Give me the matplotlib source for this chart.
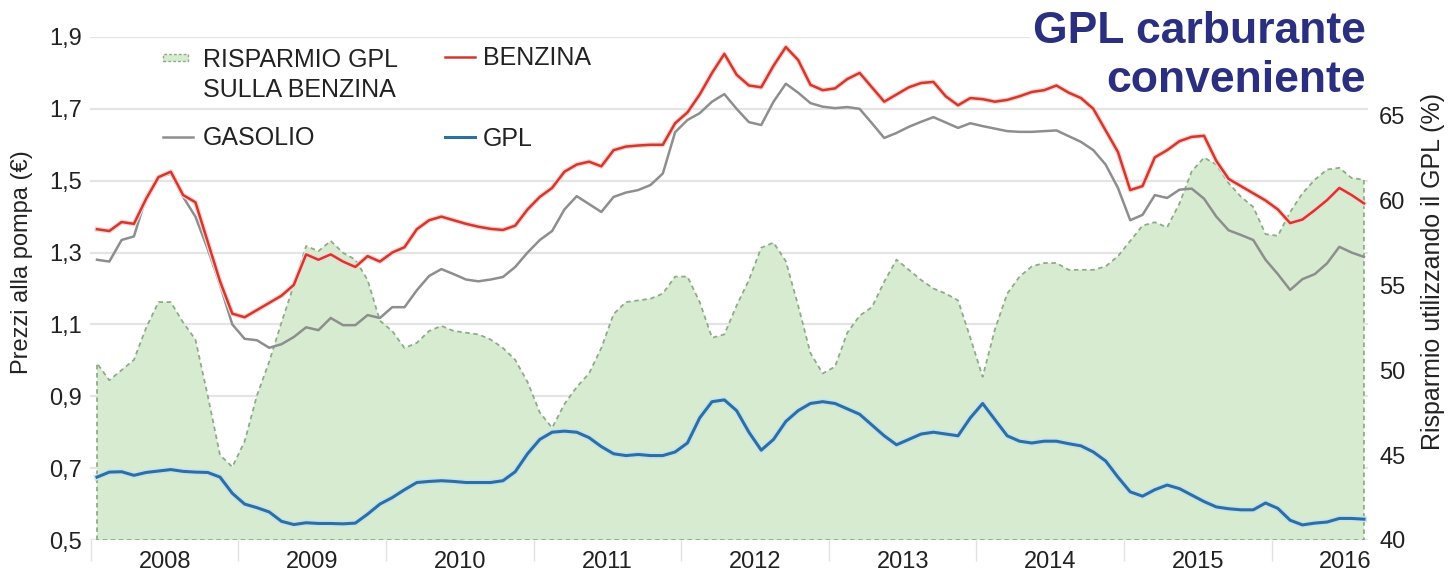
import matplotlib
matplotlib.use("Agg")
import matplotlib.pyplot as plt
import matplotlib.patheffects as pe
from matplotlib.lines import Line2D
from matplotlib.patches import Rectangle
from matplotlib.ticker import FuncFormatter

plt.rcParams['font.family'] = ['Liberation Sans', 'DejaVu Sans']

# prezzi medi mensili alla pompa (euro/litro), gen 2008 - ago 2016
benzina = [1.365, 1.36, 1.385, 1.38, 1.45, 1.51, 1.525, 1.46, 1.44, 1.33, 1.22, 1.13,
           1.12, 1.14, 1.16, 1.18, 1.21, 1.295, 1.28, 1.295, 1.275, 1.26, 1.29, 1.275,
           1.30, 1.315, 1.365, 1.39, 1.40, 1.39, 1.38, 1.372, 1.366, 1.363, 1.375, 1.42,
           1.455, 1.48, 1.525, 1.545, 1.553, 1.54, 1.585, 1.595, 1.598, 1.60, 1.60, 1.66,
           1.69, 1.74, 1.80, 1.853, 1.795, 1.765, 1.76, 1.82, 1.872, 1.836, 1.767, 1.752,
           1.757, 1.783, 1.80, 1.76, 1.72, 1.74, 1.76, 1.772, 1.775, 1.735, 1.71, 1.73,
           1.727, 1.72, 1.725, 1.735, 1.747, 1.752, 1.765, 1.745, 1.73, 1.70, 1.64, 1.58,
           1.474, 1.485, 1.565, 1.585, 1.61, 1.622, 1.625, 1.555, 1.505, 1.485, 1.465, 1.445,
           1.42, 1.382, 1.392, 1.418, 1.446, 1.48, 1.46, 1.437]

gasolio = [1.28, 1.275, 1.335, 1.345, 1.455, 1.51, 1.52, 1.455, 1.40, 1.31, 1.21, 1.10,
           1.06, 1.056, 1.035, 1.045, 1.065, 1.092, 1.084, 1.118, 1.098, 1.098, 1.126, 1.118,
           1.148, 1.148, 1.195, 1.235, 1.254, 1.24, 1.225, 1.22, 1.225, 1.232, 1.26, 1.30,
           1.335, 1.36, 1.42, 1.457, 1.435, 1.413, 1.455, 1.467, 1.474, 1.488, 1.52, 1.635,
           1.669, 1.688, 1.72, 1.741, 1.70, 1.663, 1.655, 1.72, 1.77, 1.745, 1.716, 1.706,
           1.702, 1.705, 1.70, 1.66, 1.619, 1.633, 1.65, 1.664, 1.677, 1.662, 1.647, 1.66,
           1.652, 1.645, 1.638, 1.636, 1.636, 1.638, 1.64, 1.624, 1.608, 1.585, 1.545, 1.48,
           1.39, 1.405, 1.46, 1.452, 1.475, 1.478, 1.45, 1.40, 1.362, 1.349, 1.335, 1.28,
           1.24, 1.196, 1.226, 1.24, 1.27, 1.316, 1.30, 1.288]

gpl = [0.675, 0.689, 0.69, 0.68, 0.688, 0.692, 0.696, 0.691, 0.689, 0.688, 0.675, 0.63,
       0.60, 0.59, 0.578, 0.552, 0.543, 0.548, 0.546, 0.546, 0.545, 0.547, 0.572, 0.60,
       0.618, 0.64, 0.66, 0.663, 0.665, 0.663, 0.66, 0.66, 0.66, 0.665, 0.69, 0.74,
       0.78, 0.80, 0.803, 0.80, 0.785, 0.76, 0.74, 0.735, 0.738, 0.735, 0.735, 0.745,
       0.77, 0.84, 0.885, 0.89, 0.86, 0.80, 0.75, 0.78, 0.83, 0.86, 0.88, 0.885,
       0.88, 0.865, 0.85, 0.82, 0.79, 0.765, 0.78, 0.795, 0.80, 0.795, 0.79, 0.84,
       0.88, 0.835, 0.79, 0.775, 0.77, 0.775, 0.775, 0.768, 0.762, 0.745, 0.72, 0.675,
       0.634, 0.622, 0.64, 0.653, 0.643, 0.625, 0.607, 0.592, 0.587, 0.584, 0.584, 0.603,
       0.588, 0.555, 0.542, 0.547, 0.55, 0.56, 0.56, 0.558]

# risparmio percentuale del GPL rispetto alla benzina
risparmio = [50.4, 49.4, 50.0, 50.6, 52.5, 54.0, 54.0, 52.8, 51.8, 48.5, 45.0, 44.3,
             45.8, 48.5, 50.5, 52.8, 55.0, 57.3, 57.0, 57.6, 56.9, 56.5, 55.3, 52.9,
             52.3, 51.3, 51.6, 52.3, 52.6, 52.3, 52.2, 52.1, 51.8, 51.3, 50.6, 49.3,
             47.5, 46.6, 48.0, 49.0, 49.8, 51.3, 53.3, 54.0, 54.1, 54.2, 54.5, 55.5,
             55.5, 54.0, 51.9, 52.1, 53.8, 55.3, 57.2, 57.5, 56.4, 53.8, 51.0, 49.8,
             50.2, 52.2, 53.2, 53.7, 55.2, 56.5, 55.9, 55.3, 54.8, 54.5, 54.1, 51.9,
             49.6, 52.4, 54.5, 55.5, 56.1, 56.3, 56.3, 55.9, 55.9, 55.9, 56.1, 56.7,
             57.6, 58.5, 58.7, 58.4, 59.8, 61.7, 62.5, 62.1, 61.0, 60.2, 59.6, 58.0,
             57.9, 59.3, 60.4, 61.2, 61.8, 61.9, 61.3, 61.2]

anni = ['2008', '2009', '2010', '2011', '2012', '2013', '2014', '2015', '2016']
tick_prezzi = [0.5, 0.7, 0.9, 1.1, 1.3, 1.5, 1.7, 1.9]
tick_risparmio = [40, 45, 50, 55, 60, 65]

mesi = list(range(len(benzina)))

W, H = 1449, 578


def fx(px):
    return px / W


def fy(py):
    return 1 - py / H


RED = '#d3382e'
GRAY = '#8e8e8e'
BLUE = '#2f6fa0'
FILL = '#d6ebcf'
EDGE = '#8fab8a'
TXT = '#222222'

fig = plt.figure(figsize=(W / 100, H / 100), dpi=100)
rect = [fx(90), fy(540), fx(1368) - fx(90), fy(37) - fy(540)]

ax = fig.add_axes(rect)
ax2 = ax.twinx()
ax3 = fig.add_axes(rect, sharex=ax, sharey=ax)
ax.set_zorder(0)
ax2.set_zorder(1)
ax3.set_zorder(2)
ax3.patch.set_visible(False)
ax3.axis('off')

ax.set_xlim(-0.57, 103.33)
ax.set_ylim(0.5, 1.9)
ax2.set_ylim(40, 69.6)

# griglia dietro all'area verde
ax.set_yticks(tick_prezzi)
ax.yaxis.set_major_formatter(FuncFormatter(lambda v, p: f'{v:.1f}'.replace('.', ',')))
ax.grid(axis='y', color='#e4e4e4', linewidth=1.6)
ax.set_axisbelow(True)

ax.set_xticks([5.5 + 12 * k for k in range(len(anni))])
ax.set_xticklabels(anni)
ax.set_xticks([-0.5 + 12 * k for k in range(len(anni))], minor=True)
ax.tick_params(axis='x', which='major', length=0, pad=8, labelsize=17, labelcolor=TXT)
ax.tick_params(axis='x', which='minor', length=15, width=1, color='#e2e2e2')
ax.tick_params(axis='y', length=0, pad=6, labelsize=17, labelcolor=TXT)

ax2.set_yticks(tick_risparmio)
ax2.tick_params(axis='y', length=0, pad=8, labelsize=17, labelcolor=TXT)

for a in (ax, ax2):
    for s in a.spines.values():
        s.set_visible(False)

ax2.fill_between(mesi, risparmio, 40, facecolor=FILL, edgecolor=EDGE,
                 linewidth=1.3, linestyle=(0, (2.5, 2)))

ax3.plot(mesi, gasolio, color=GRAY, linewidth=1.8)
ax3.plot(mesi, benzina, color=RED, linewidth=1.8,
         path_effects=[pe.Stroke(linewidth=3.6, foreground='#f7d4d2'), pe.Normal()])
ax3.plot(mesi, gpl, color=BLUE, linewidth=2.2,
         path_effects=[pe.Stroke(linewidth=4.4, foreground='#c4e4f2'), pe.Normal()])

# etichette degli assi
fig.text(fx(22), fy(262), 'Prezzi alla pompa (€)', rotation=90, ha='center', va='center',
         fontsize=17, color=TXT)
fig.text(fx(1433), fy(272), 'Risparmio utilizzando il GPL (%)', rotation=90,
         ha='center', va='center', fontsize=18, color=TXT)

# titolo
tbox = dict(facecolor='white', edgecolor='none', pad=2)
fig.text(fx(1366), fy(43), 'GPL carburante', ha='right', va='baseline', fontsize=32,
         fontweight='bold', color='#2b2f80', bbox=tbox)
fig.text(fx(1366), fy(92), 'conveniente', ha='right', va='baseline', fontsize=32,
         fontweight='bold', color='#2b2f80', bbox=tbox)

# legenda
fig.patches.append(Rectangle((fx(163), fy(61)), fx(188) - fx(163), fy(54) - fy(61),
                             transform=fig.transFigure, facecolor=FILL, edgecolor=EDGE,
                             linewidth=1.0, linestyle=(0, (2, 1.5))))
fig.lines.append(Line2D([fx(445), fx(475)], [fy(57), fy(57)], transform=fig.transFigure,
                        color=RED, linewidth=1.8))
fig.lines.append(Line2D([fx(163), fx(193)], [fy(137), fy(137)], transform=fig.transFigure,
                        color=GRAY, linewidth=1.8))
fig.lines.append(Line2D([fx(445), fx(475)], [fy(137), fy(137)], transform=fig.transFigure,
                        color=BLUE, linewidth=2.2))
leg = dict(fontsize=18, color=TXT, ha='left', va='baseline')
fig.text(fx(203), fy(67), 'RISPARMIO GPL', **leg)
fig.text(fx(203), fy(97), 'SULLA BENZINA', **leg)
fig.text(fx(483), fy(65), 'BENZINA', **leg)
fig.text(fx(203), fy(145), 'GASOLIO', **leg)
fig.text(fx(483), fy(146), 'GPL', **leg)

fig.savefig('out.png', dpi=100, facecolor='white')
